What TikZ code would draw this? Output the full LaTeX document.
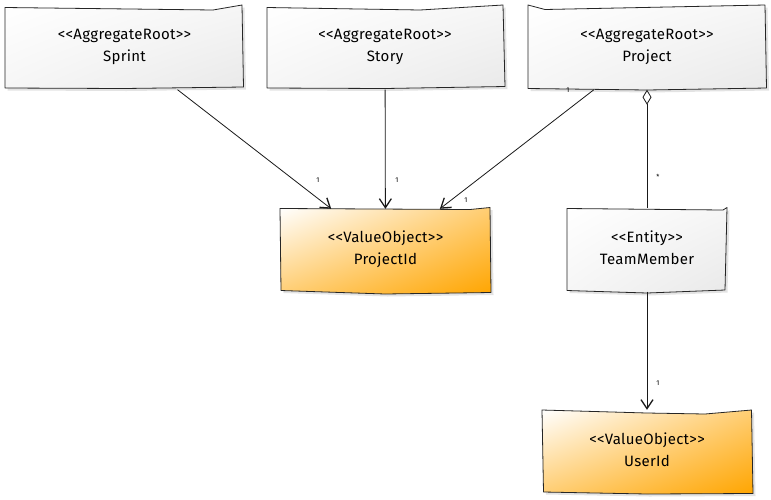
\documentclass[tikz,border=0pt]{standalone}
\usepackage{fontspec}
\setmainfont{Fira Sans}
\usetikzlibrary{arrows.meta,shadows,shadings}
\definecolor{vo}{HTML}{FFA500}
\begin{document}
\begin{tikzpicture}[x=1pt,y=-1pt,
  outlinebox/.style={draw=black!85, line width=0.8pt, line join=round,
    drop shadow={shadow xshift=2.5pt, shadow yshift=-2.5pt, opacity=0.22}},
  greyshape/.style={outlinebox, upper left=white, upper right=gray!7, lower left=gray!7, lower right=gray!17},
  orangeshape/.style={outlinebox, upper left=white, upper right=vo!55, lower left=vo!55, lower right=vo},
  box/.style={inner sep=0pt},
  txt/.style={align=center, inner sep=0pt, font=\fontsize{15}{22}\selectfont\addfontfeature{LetterSpace=2}},
  conn/.style={draw=black!90, line width=0.8pt},
  arr/.style={conn, -{Straight Barb[length=9pt,width=12pt,line width=1.3pt]}},
  agg/.style={conn, {Diamond[open,length=15pt,width=9pt,line width=0.8pt]}-},
  lbl/.style={font=\fontsize{7}{8}\selectfont, inner sep=0pt}]
\useasboundingbox (0,0) rectangle (771,499);
\fill[white] (0,0) rectangle (771,499);

% hand-drawn box outlines
\path[greyshape] (5,7.5) -- (213,10) -- (242,5) -- (243.5,87) -- (124,88.5) -- (5,88) -- cycle;
\path[greyshape] (267,7.5) -- (420,10) -- (503,5) -- (505,86.5) -- (385,88.5) -- (267,88) -- cycle;
\path[greyshape] (528,5) -- (545,9.5) -- (765,5) -- (766.5,88) -- (647,90) -- (528,88.5) -- cycle;
\path[orangeshape] (280,208.5) -- (470,209.5) -- (490,207.5) -- (491,292.5) -- (385,294) -- (281,290.5) -- cycle;
\path[greyshape] (567,208.5) -- (723,210) -- (727,207.5) -- (725,290) -- (647,293) -- (567,290.5) -- cycle;
\path[orangeshape] (542,410) -- (647,413) -- (705,414) -- (751.5,410) -- (753,493.5) -- (647,494) -- (543.5,492) -- cycle;

% named nodes
\node[box, minimum width=239pt, minimum height=82pt] (sprint) at (124.5,48.5) {};
\node[box, minimum width=236pt, minimum height=82pt] (story) at (385,48.5) {};
\node[box, minimum width=238pt, minimum height=82pt] (project) at (647,48.5) {};
\node[box, minimum width=211pt, minimum height=84pt] (pid) at (385.5,251) {};
\node[box, minimum width=160pt, minimum height=83pt] (tm) at (647,250) {};
\node[box, minimum width=210pt, minimum height=84pt] (uid) at (647,452) {};

\node[txt] (sprintT) at ([yshift=2pt]sprint.center) {<{}<AggregateRoot>{}>\\Sprint};
\node[txt] (storyT) at ([yshift=2pt]story.center) {<{}<AggregateRoot>{}>\\Story};
\node[txt] (projectT) at ([yshift=2pt]project.center) {<{}<AggregateRoot>{}>\\Project};
\node[txt] (pidT) at ([yshift=2pt]pid.center) {<{}<ValueObject>{}>\\ProjectId};
\node[txt] (tmT) at ([yshift=2pt]tm.center) {<{}<Entity>{}>\\TeamMember};
\node[txt] (uidT) at ([yshift=2pt]uid.center) {<{}<ValueObject>{}>\\UserId};

\draw[arr] (sprint) -- (pid);
\draw[arr] (story) -- (pid);
\draw[arr] (project) -- (pid);
\draw[agg] (project.south) -- (tm.north);
\draw[arr] (tm.south) -- (uid.north);

\node[lbl] (l1) at (318,180) {1};
\node[lbl] (l2) at (397,180) {1};
\node[lbl] (l3) at (466,200) {1};
\node[lbl] (l4) at (568,90) {1};
\node[lbl] (l5) at (658,177) {*};
\node[lbl] (l6) at (658,383) {1};
\end{tikzpicture}
\end{document}
